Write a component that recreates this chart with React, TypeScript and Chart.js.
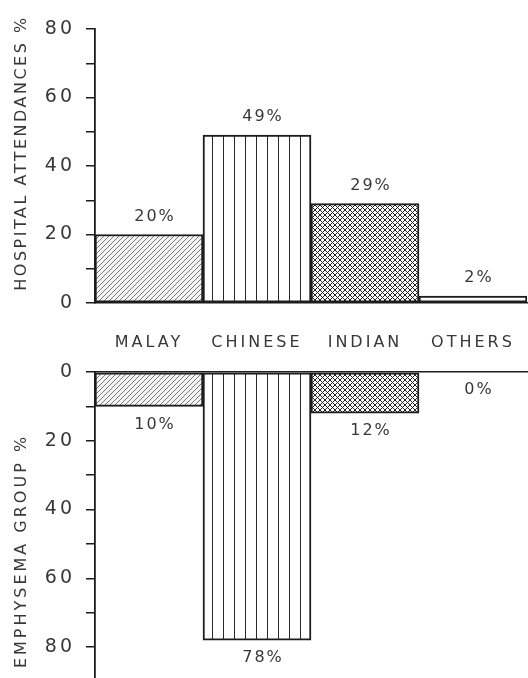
import React, { useEffect, useRef } from 'react';
import { Chart, registerables } from 'chart.js';

Chart.register(...registerables);

const categories = ['MALAY', 'CHINESE', 'INDIAN', 'OTHERS'];
const hospitalAttendances = [20, 49, 29, 2];
const emphysemaGroup = [10, 78, 12, 0];
const patternKinds = ['diag', 'vert', 'cross', 'none'];
const topTitle = 'HOSPITAL ATTENDANCES %';
const bottomTitle = 'EMPHYSEMA GROUP %';

const FONT = "'DejaVu Sans', sans-serif";
const TEXT = '#383838';
const LINE = '#1c1c1c';

function makePattern(target: CanvasRenderingContext2D, kind: string): any {
  if (kind === 'none') return '#ffffff';
  const c = document.createElement('canvas');
  const ctx = c.getContext('2d') as CanvasRenderingContext2D;
  if (kind === 'vert') {
    c.width = 11; c.height = 4;
    ctx.fillStyle = '#ffffff'; ctx.fillRect(0, 0, 11, 4);
    ctx.fillStyle = '#2a2a2a'; ctx.fillRect(3, 0, 1, 4);
  } else if (kind === 'diag') {
    const s = 5; c.width = s; c.height = s;
    ctx.fillStyle = '#f4f4f4'; ctx.fillRect(0, 0, s, s);
    ctx.strokeStyle = '#6e6e6e'; ctx.lineWidth = 0.9;
    ctx.beginPath();
    ctx.moveTo(-1, s + 1); ctx.lineTo(s + 1, -1);
    ctx.moveTo(-1, 1); ctx.lineTo(1, -1);
    ctx.moveTo(s - 1, s + 1); ctx.lineTo(s + 1, s - 1);
    ctx.stroke();
  } else {
    const s = 5; c.width = s; c.height = s;
    ctx.fillStyle = '#ffffff'; ctx.fillRect(0, 0, s, s);
    ctx.strokeStyle = '#262626'; ctx.lineWidth = 1;
    ctx.beginPath();
    ctx.moveTo(-1, s + 1); ctx.lineTo(s + 1, -1);
    ctx.moveTo(-1, 1); ctx.lineTo(1, -1);
    ctx.moveTo(s - 1, s + 1); ctx.lineTo(s + 1, s - 1);
    ctx.moveTo(-1, -1); ctx.lineTo(s + 1, s + 1);
    ctx.moveTo(-1, s - 1); ctx.lineTo(1, s + 1);
    ctx.moveTo(s - 1, -1); ctx.lineTo(s + 1, 1);
    ctx.stroke();
  }
  return target.createPattern(c, 'repeat');
}

const spacingPlugin = {
  id: 'spacing',
  beforeDraw(chart: any) {
    chart.ctx.letterSpacing = '3px';
  },
};

function titlePlugin(text: string, x: number, y: number, spacing: number) {
  return {
    id: 'axisTitle',
    afterDraw(chart: any) {
      const ctx = chart.ctx as CanvasRenderingContext2D;
      ctx.save();
      (ctx as any).letterSpacing = `${spacing}px`;
      ctx.font = `16px ${FONT}`;
      ctx.fillStyle = TEXT;
      ctx.textAlign = 'center';
      ctx.textBaseline = 'middle';
      ctx.translate(x, y);
      ctx.rotate(-Math.PI / 2);
      ctx.fillText(text, 0, 0);
      ctx.restore();
    },
  };
}

function valueLabelPlugin(values: number[], below: boolean) {
  return {
    id: 'valueLabels',
    afterDatasetsDraw(chart: any) {
      const ctx = chart.ctx as CanvasRenderingContext2D;
      const meta = chart.getDatasetMeta(0);
      ctx.save();
      (ctx as any).letterSpacing = '2px';
      ctx.font = `16px ${FONT}`;
      ctx.fillStyle = TEXT;
      ctx.textAlign = 'center';
      ctx.textBaseline = 'middle';
      meta.data.forEach((el: any, i: number) => {
        const y = below ? el.y + 18 : el.y - 18;
        ctx.fillText(`${values[i]}%`, el.x + 6, y);
      });
      ctx.restore();
    },
  };
}

function makeChart(canvas: HTMLCanvasElement, values: number[], bottom: boolean) {
  const ctx = canvas.getContext('2d') as CanvasRenderingContext2D;
  const bg = patternKinds.map((k) => makePattern(ctx, k));
  return new Chart(canvas, {
    type: 'bar',
    data: {
      labels: categories,
      datasets: [
        {
          data: values,
          backgroundColor: bg,
          borderColor: LINE,
          borderWidth: 2,
          borderSkipped: false,
          categoryPercentage: 1,
          barPercentage: 1,
        },
      ],
    },
    options: {
      responsive: false,
      animation: false,
      events: [],
      layout: {
        padding: bottom
          ? { top: 17, left: 0, right: 1, bottom: 0 }
          : { top: 29, left: 0, right: 1, bottom: 0 },
      },
      plugins: { legend: { display: false }, tooltip: { enabled: false } },
      scales: {
        x: {
          position: bottom ? 'top' : 'bottom',
          grid: { display: false },
          border: { display: true, color: LINE, width: 1.5 },
          ticks: {
            display: !bottom,
            padding: 22,
            color: TEXT,
            font: { family: FONT, size: 16 },
            maxRotation: 0,
            autoSkip: false,
          },
          afterFit(scale: any) {
            scale.height = bottom ? 0 : 52;
            scale.paddingLeft = 0;
            scale.paddingRight = 0;
            scale.paddingTop = 0;
            scale.paddingBottom = 0;
          },
        },
        y: {
          min: 0,
          max: bottom ? 89 : 80,
          reverse: bottom,
          grid: {
            drawOnChartArea: false,
            drawTicks: true,
            tickLength: 9,
            color: LINE,
            lineWidth: 1.5,
          },
          border: { display: true, color: LINE, width: 1.8 },
          ticks: {
            stepSize: 10,
            includeBounds: false,
            padding: 11,
            color: TEXT,
            font: { family: FONT, size: 19 },
            callback: (v: any) => (Number(v) % 20 === 0 ? String(v) : ''),
          },
          afterFit(scale: any) {
            scale.width = 95;
            scale.paddingTop = 0;
            scale.paddingBottom = 0;
            scale.paddingLeft = 0;
            scale.paddingRight = 0;
          },
        },
      },
    } as any,
    plugins: [
      spacingPlugin,
      titlePlugin(bottom ? bottomTitle : topTitle, 22, bottom ? 196 : 153, bottom ? 3 : 2.5),
      valueLabelPlugin(values, bottom),
    ],
  });
}

export default function App() {
  const topRef = useRef<HTMLCanvasElement>(null);
  const botRef = useRef<HTMLCanvasElement>(null);

  useEffect(() => {
    const a = makeChart(topRef.current as HTMLCanvasElement, hospitalAttendances, false);
    const b = makeChart(botRef.current as HTMLCanvasElement, emphysemaGroup, true);
    return () => {
      a.destroy();
      b.destroy();
    };
  }, []);

  return (
    <div style={{ position: 'absolute', left: 0, top: 0, width: 528, height: 678, background: '#fff' }}>
      <canvas
        ref={topRef}
        width={528}
        height={355}
        style={{ position: 'absolute', left: 0, top: 0, width: 528, height: 355 }}
      />
      <canvas
        ref={botRef}
        width={528}
        height={323}
        style={{ position: 'absolute', left: 0, top: 355, width: 528, height: 323 }}
      />
    </div>
  );
}
